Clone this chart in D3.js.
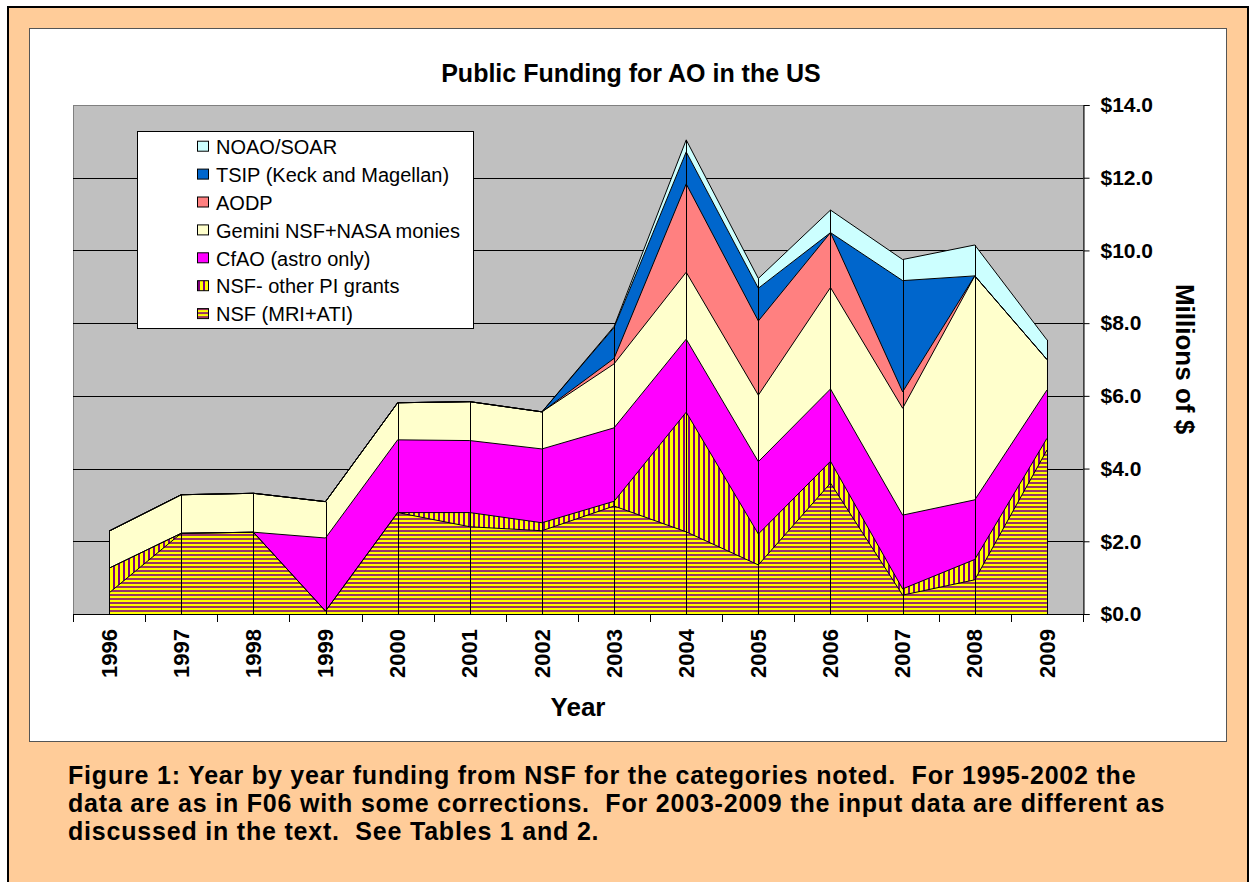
<!DOCTYPE html>
<html>
<head>
<meta charset="utf-8">
<script src="https://cdn.jsdelivr.net/npm/d3@7"></script>
<style>
  html, body { margin: 0; padding: 0; background: #ffffff; }
  svg text { font-family: "Liberation Sans", Arial, sans-serif; }
</style>
</head>
<body>
<div id="chart"></div>
<script>
// Data (millions of $)
const years = ['1996', '1997', '1998', '1999', '2000', '2001', '2002', '2003', '2004', '2005', '2006', '2007', '2008', '2009'];
const nsfMriAti = [0.58, 2.22, 2.25, 0.08, 2.79, 2.40, 2.29, 2.97, 2.26, 1.35, 3.60, 0.52, 0.94, 4.51];
const nsfOtherPi = [0.68, 0, 0, 0, 0, 0.39, 0.22, 0.13, 3.29, 0.85, 0.60, 0.17, 0.56, 0.32];
const cfao = [0, 0, 0, 2.01, 2.00, 1.98, 2.03, 2.02, 2.01, 1.99, 1.99, 2.03, 1.64, 1.33];
const gemini = [1.02, 1.06, 1.07, 1.00, 1.02, 1.07, 1.02, 1.76, 1.84, 1.83, 2.79, 2.94, 6.16, 0.84];
const aodp = [0, 0, 0, 0, 0, 0, 0, 0.15, 2.43, 2.04, 1.51, 0.45, 0, 0];
const tsip = [0, 0, 0, 0, 0, 0, 0, 0.85, 0.88, 0.90, 0, 3.06, 0, 0];
const noaoSoar = [0, 0, 0, 0, 0, 0, 0, 0.03, 0.33, 0.27, 0.62, 0.58, 0.85, 0.54];

const seriesNames = ['NSF (MRI+ATI)', 'NSF- other PI grants', 'CfAO (astro only)', 'Gemini NSF+NASA monies', 'AODP', 'TSIP (Keck and Magellan)', 'NOAO/SOAR'];
const seriesValues = [nsfMriAti, nsfOtherPi, cfao, gemini, aodp, tsip, noaoSoar];
const seriesFills = ['url(#hstripe)', 'url(#vstripe)', '#FF00FF', '#FFFFCC', '#FF8080', '#0066CC', '#CCFFFF'];
const yTicks = [0, 2, 4, 6, 8, 10, 12, 14];

const captionLines = [
  'Figure 1: Year by year funding from NSF for the categories noted.  For 1995-2002 the',
  'data are as in F06 with some corrections.  For 2003-2009 the input data are different as',
  'discussed in the text.  See Tables 1 and 2.'
];

const width = 1256;
const height = 882;

const svg = d3.select('#chart')
  .append('svg')
  .attr('width', width)
  .attr('height', height);

// hatch patterns used by the two NSF series
const defs = svg.append('defs');
const hp = defs.append('pattern')
  .attr('id', 'hstripe')
  .attr('patternUnits', 'userSpaceOnUse')
  .attr('width', 8).attr('height', 4);
hp.append('rect').attr('width', 8).attr('height', 4).attr('fill', '#FFFF00');
hp.append('rect').attr('y', 2).attr('width', 8).attr('height', 2).attr('fill', '#993366');

const vp = defs.append('pattern')
  .attr('id', 'vstripe')
  .attr('patternUnits', 'userSpaceOnUse')
  .attr('width', 5).attr('height', 8);
vp.append('rect').attr('width', 5).attr('height', 8).attr('fill', '#FFFF00');
vp.append('rect').attr('x', 3).attr('width', 2).attr('height', 8).attr('fill', '#800080');

// page frame
svg.append('rect').attr('width', width).attr('height', height).attr('fill', '#ffffff');
svg.append('rect')
  .attr('x', 8).attr('y', 7)
  .attr('width', 1240).attr('height', 900)
  .attr('fill', '#FFCC99')
  .attr('stroke', '#000').attr('stroke-width', 2);
svg.append('rect')
  .attr('x', 29.5).attr('y', 28.5)
  .attr('width', 1197).attr('height', 713)
  .attr('fill', '#ffffff')
  .attr('stroke', '#555').attr('stroke-width', 1);

// plot area
const plot = { left: 73, right: 1083, top: 105, bottom: 614 };

const x = d3.scaleBand()
  .domain(years)
  .range([plot.left, plot.right]);
const xc = d => x(d) + x.bandwidth() / 2;

const y = d3.scaleLinear()
  .domain([0, 14])
  .range([plot.bottom, plot.top]);

svg.append('rect')
  .attr('x', plot.left + 0.5).attr('y', plot.top + 0.5)
  .attr('width', plot.right - plot.left).attr('height', plot.bottom - plot.top)
  .attr('fill', '#C0C0C0')
  .attr('stroke', '#808080');

// gridlines
svg.append('g')
  .selectAll('line')
  .data(yTicks.filter(t => t > 0 && t < 14))
  .enter()
  .append('line')
  .attr('x1', plot.left).attr('x2', plot.right)
  .attr('y1', d => Math.round(y(d)) + 0.5).attr('y2', d => Math.round(y(d)) + 0.5)
  .attr('stroke', '#000');

// stacked areas
const table = years.map((yr, i) => {
  let row = { year: yr };
  seriesNames.forEach((s, j) => { row[s] = seriesValues[j][i]; });
  return row;
});
const stack = d3.stack().keys(seriesNames)(table);

const area = d3.area()
  .x(d => xc(d.data.year))
  .y0(d => y(d[0]))
  .y1(d => y(d[1]));
const topLine = d3.line()
  .x(d => xc(d.data.year))
  .y(d => y(d[1]));

const layers = svg.append('g');
layers.selectAll('path.area')
  .data(stack)
  .enter()
  .append('path')
  .attr('class', 'area')
  .attr('d', area)
  .attr('fill', (d, i) => seriesFills[i]);
layers.selectAll('path.edge')
  .data(stack)
  .enter()
  .append('path')
  .attr('class', 'edge')
  .attr('d', topLine)
  .attr('fill', 'none')
  .attr('stroke', '#000')
  .attr('stroke-width', 1);

// drop lines at each year
const totals = table.map(r => seriesNames.reduce((a, s) => a + r[s], 0));
svg.append('g')
  .selectAll('line')
  .data(years)
  .enter()
  .append('line')
  .attr('x1', d => Math.round(xc(d)) + 0.5).attr('x2', d => Math.round(xc(d)) + 0.5)
  .attr('y1', plot.bottom).attr('y2', (d, i) => y(totals[i]))
  .attr('stroke', '#000');

// x axis (ticks between categories)
const xAxis = svg.append('g');
xAxis.append('line')
  .attr('x1', plot.left).attr('x2', plot.right)
  .attr('y1', plot.bottom + 0.5).attr('y2', plot.bottom + 0.5)
  .attr('stroke', '#000');
xAxis.selectAll('line.tick')
  .data(years.map(d => x(d)).concat([plot.right]))
  .enter()
  .append('line')
  .attr('class', 'tick')
  .attr('x1', d => Math.round(d) + 0.5).attr('x2', d => Math.round(d) + 0.5)
  .attr('y1', plot.bottom).attr('y2', plot.bottom + 8)
  .attr('stroke', '#000');
xAxis.selectAll('text')
  .data(years)
  .enter()
  .append('text')
  .attr('transform', d => `translate(${xc(d)},629) rotate(-90)`)
  .attr('dy', '0.35em')
  .attr('text-anchor', 'end')
  .style('font-size', '22px')
  .style('font-weight', 'bold')
  .text(d => d);

// y axis on the right
const yAxis = d3.axisRight(y)
  .tickValues(yTicks)
  .tickFormat(d => '$' + d.toFixed(1))
  .tickSize(6)
  .tickPadding(11);
const ya = svg.append('g')
  .attr('transform', `translate(${plot.right + 0.5},0)`)
  .call(yAxis);
ya.select('.domain').attr('stroke', '#000');
ya.selectAll('text')
  .style('font-size', '21px')
  .style('font-weight', 'bold')
  .style('font-family', '"Liberation Sans", Arial, sans-serif')
  .attr('fill', '#000');

// titles
svg.append('text')
  .attr('x', 631).attr('y', 82)
  .attr('text-anchor', 'middle')
  .style('font-size', '25px')
  .style('font-weight', 'bold')
  .text('Public Funding for AO in the US');
svg.append('text')
  .attr('x', 578).attr('y', 716)
  .attr('text-anchor', 'middle')
  .style('font-size', '26px')
  .style('font-weight', 'bold')
  .text('Year');
svg.append('text')
  .attr('transform', 'translate(1185,359) rotate(90)')
  .attr('text-anchor', 'middle')
  .attr('dy', '0.35em')
  .style('font-size', '26px')
  .style('font-weight', 'bold')
  .text('Millions of $');

// legend
const legend = svg.append('g');
legend.append('rect')
  .attr('x', 137.5).attr('y', 131.5)
  .attr('width', 336).attr('height', 197)
  .attr('fill', '#fff')
  .attr('stroke', '#000');
const items = legend.selectAll('g.item')
  .data(seriesNames.slice().reverse())
  .enter()
  .append('g')
  .attr('class', 'item')
  .attr('transform', (d, i) => `translate(0,${146.7 + i * 27.9})`);
items.append('rect')
  .attr('x', 197.5).attr('y', -5.5)
  .attr('width', 11).attr('height', 10)
  .attr('fill', d => seriesFills[seriesNames.indexOf(d)])
  .attr('stroke', '#000');
items.append('text')
  .attr('x', 216).attr('dy', '0.36em')
  .style('font-size', '20px')
  .text(d => d);

// caption
svg.append('g')
  .selectAll('text')
  .data(captionLines)
  .enter()
  .append('text')
  .attr('x', 68).attr('y', (d, i) => 784 + i * 28)
  .style('font-size', '25px')
  .style('letter-spacing', '0.8px')
  .style('font-weight', 'bold')
  .style('white-space', 'pre')
  .text(d => d);
</script>
</body>
</html>
